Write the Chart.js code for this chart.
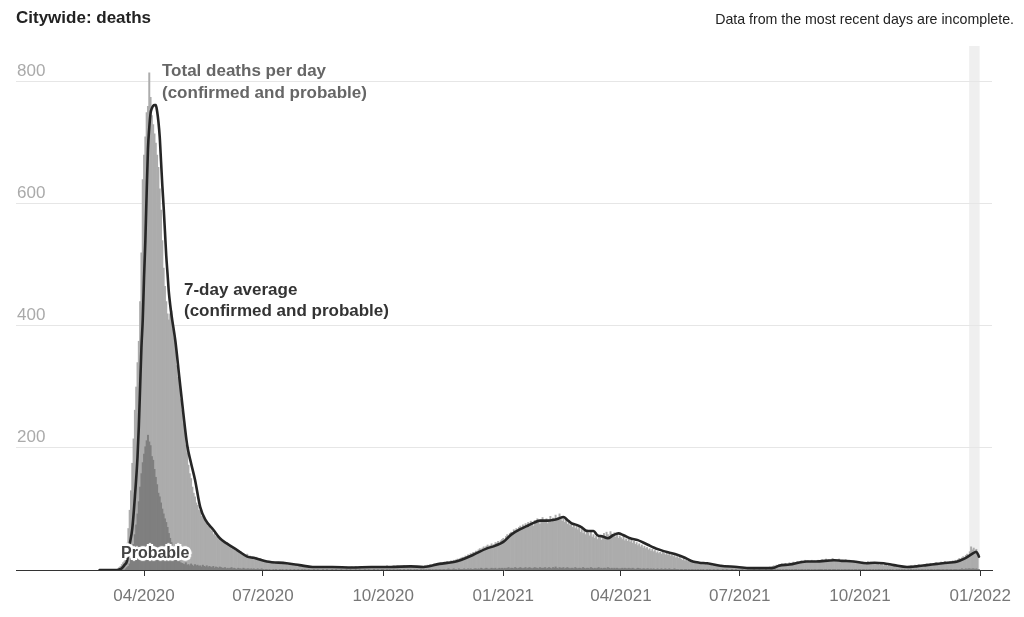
<!DOCTYPE html>
<html>
<head>
<meta charset="utf-8">
<title>Citywide: deaths</title>
<script src="https://cdn.jsdelivr.net/npm/chart.js@4.4.1/dist/chart.umd.min.js"></script>
<style>
  html, body { margin: 0; padding: 0; background: #fff; }
  #wrap { position: relative; width: 1024px; height: 617px; font-family: "Liberation Sans", Arial, sans-serif; }
  #chart { position: absolute; left: 0; top: 0; }
  .txt { position: absolute; white-space: nowrap; }
  #title { left: 16px; top: 8px; font-size: 17px; font-weight: bold; color: #222; line-height: 20px; }
  #note { right: 10px; top: 9px; font-size: 14.2px; color: #222; line-height: 20px; }
  #lblTotal { left: 162px; top: 60px; font-size: 17px; font-weight: bold; color: #666; line-height: 22px; }
  #lblAvg { left: 184px; top: 279px; font-size: 17px; font-weight: bold; color: #333; line-height: 21px; }
  #lblProb { left: 121px; top: 545px; font-size: 16px; font-weight: bold; color: #444; line-height: 16px;
    text-shadow: 2px 0 0 #fff, -2px 0 0 #fff, 0 2px 0 #fff, 0 -2px 0 #fff, 2px 2px 0 #fff, -2px -2px 0 #fff,
                 2px -2px 0 #fff, -2px 2px 0 #fff, 3px 0 1px #fff, -3px 0 1px #fff, 0 3px 1px #fff, 0 -3px 1px #fff; }
</style>
</head>
<body>
<div id="wrap">
  <canvas id="chart" width="1024" height="617"></canvas>
  <div class="txt" id="title">Citywide: deaths</div>
  <div class="txt" id="note">Data from the most recent days are incomplete.</div>
  <div class="txt" id="lblTotal">Total deaths per day<br>(confirmed and probable)</div>
  <div class="txt" id="lblAvg">7-day average<br>(confirmed and probable)</div>
  <div class="txt" id="lblProb">Probable</div>
</div>
<script>
// day 0 = 2020-03-01, one value per day, one line per month
const totalDeaths = [
  0,0,0,0,0,0,0,0,0,0,1,2,4,6,9,12,20,30,44,68,98,130,175,215,262,300,340,375,440,520,640,
  680,710,750,760,815,775,745,730,715,700,680,660,625,590,540,495,465,440,420,410,420,425,395,380,360,335,316,300,280,262,
  240,228,205,192,172,158,150,136,126,120,110,106,98,96,88,86,84,78,76,72,70,66,64,58,60,55,54,50,52,47,46,
  45,42,44,40,38,39,35,36,33,31,32,29,28,30,26,27,25,24,26,22,23,21,22,20,19,21,18,17,19,16,
  16,15,13,14,12,13,11,12,13,10,11,12,10,11,9,10,11,9,10,8,9,10,8,9,7,8,9,8,7,8,7,
  7,6,5,7,6,4,6,5,4,6,5,4,6,5,4,3,5,4,6,3,4,5,4,3,5,4,3,5,4,4,5,
  4,3,5,4,3,4,5,3,4,6,4,3,5,4,3,4,5,3,4,5,6,4,3,5,4,6,5,4,6,5,
  5,6,4,7,5,6,4,5,7,6,5,7,6,5,4,6,7,5,6,4,5,7,5,6,4,5,6,5,4,6,5,
  6,7,5,8,7,9,6,8,10,8,9,11,10,12,9,11,13,12,14,11,13,15,14,16,13,17,18,16,19,20,
  21,19,23,22,25,24,27,26,29,28,31,30,33,35,32,36,38,34,39,41,37,40,43,39,42,45,44,47,43,48,50,
  52,49,55,58,54,60,62,59,66,64,68,63,70,72,67,74,71,76,69,78,74,80,76,72,81,77,84,79,75,82,86,
  80,78,84,76,82,88,79,85,81,90,83,86,92,84,80,87,78,82,75,79,73,76,70,74,68,72,66,70,
  62,68,60,65,58,66,61,56,63,54,58,52,55,50,57,53,49,56,60,54,62,58,55,63,59,56,61,54,58,52,56,
  53,50,55,48,51,47,52,46,49,44,47,42,45,40,43,38,41,36,39,35,37,33,35,31,34,30,32,28,30,27,
  29,26,30,27,25,28,24,26,23,25,22,24,20,22,19,21,18,16,19,15,17,14,16,13,15,12,14,11,13,12,10,
  11,10,12,9,11,10,8,10,9,7,9,8,7,8,6,7,8,6,7,5,6,7,5,6,4,5,6,4,5,4,
  3,4,2,3,4,3,2,4,3,2,3,4,2,3,3,4,2,3,4,3,2,4,3,5,4,6,7,6,8,7,9,
  8,10,7,9,11,8,10,12,9,11,13,10,12,14,11,13,15,12,14,16,13,15,12,14,16,13,15,14,12,16,14,
  15,17,14,16,18,15,17,14,16,19,15,17,14,16,18,15,13,16,14,17,15,13,16,14,12,15,13,14,12,13,
  12,10,13,11,9,12,14,11,13,10,12,11,9,12,10,8,11,9,7,10,8,6,9,7,8,6,7,5,6,7,5,
  5,6,4,5,6,5,4,6,7,5,6,8,6,7,9,7,8,6,9,8,10,7,9,11,8,10,9,12,10,11,
  11,13,12,10,14,12,13,11,14,13,15,12,16,14,17,19,16,20,22,19,24,26,23,30,38,33,36,31,34,22
];

const probableDeaths = [
  0,0,0,0,0,0,0,0,0,0,0,0,0,0,0,0,0,2,4,6,10,17,28,42,58,74,92,112,136,158,176,
  190,202,212,221,210,204,186,180,165,152,140,126,120,110,100,92,84,78,70,60,52,45,38,32,26,21,17,14,12,11,
  10,9,12,8,9,7,10,8,6,9,7,8,6,7,5,8,6,5,7,4,6,5,4,6,3,5,4,3,5,4,3,
  3,4,2,3,2,3,4,2,3,2,1,3,2,2,1,3,2,1,2,2,1,2,1,2,1,1,2,1,1,2,
  1,0,1,1,0,1,0,0,1,0,1,0,0,1,0,1,0,0,1,0,0,1,0,0,1,0,0,1,0,0,1,
  0,1,0,0,1,0,0,0,1,0,0,1,0,0,0,1,0,0,1,0,0,0,1,0,0,1,0,0,0,1,0,
  0,0,1,0,0,1,0,0,0,1,0,0,1,0,0,0,1,0,0,1,0,0,0,1,0,0,1,0,0,1,
  1,0,0,1,0,1,0,0,1,0,0,1,0,1,0,0,1,0,0,1,0,1,0,0,1,0,1,0,0,1,0,
  1,0,1,0,1,1,0,1,0,1,1,0,1,1,0,1,1,0,1,2,1,0,1,2,1,1,0,2,1,1,
  1,2,1,1,2,1,2,1,1,2,2,1,2,1,3,2,1,2,3,2,1,2,3,2,2,3,1,2,3,2,3,
  2,3,2,3,4,2,3,3,2,4,3,2,3,4,3,2,3,4,2,3,4,3,2,3,4,3,3,2,4,3,3,
  3,4,2,3,4,3,2,4,3,5,3,2,4,3,3,4,2,3,4,3,2,3,3,2,4,3,2,3,
  3,2,4,3,2,3,3,2,4,3,2,3,2,3,4,2,3,2,3,3,2,4,3,2,3,2,3,2,3,2,2,
  2,3,2,3,2,2,3,2,2,3,2,1,2,3,2,2,1,2,2,1,2,2,1,2,1,2,1,1,2,1,
  1,2,1,1,2,1,1,2,1,1,1,2,1,1,1,0,1,1,0,1,1,0,1,0,1,1,0,1,0,1,0,
  1,0,1,0,0,1,0,1,0,0,1,0,0,1,0,0,0,1,0,0,1,0,0,0,1,0,0,1,0,0,
  0,0,1,0,0,0,1,0,0,0,0,1,0,0,0,1,0,0,0,0,1,0,0,0,1,0,0,1,0,1,0,
  1,0,1,0,1,1,0,1,0,1,0,1,1,0,1,0,1,1,0,1,0,1,1,0,1,0,1,1,0,1,1,
  1,1,0,1,1,0,1,1,0,1,1,1,0,1,1,0,1,0,1,1,0,1,1,0,1,0,1,1,0,1,
  1,0,1,1,0,1,0,1,1,0,1,0,1,0,1,1,0,1,0,1,0,1,0,1,0,1,0,0,1,0,1,
  0,1,0,1,0,0,1,0,1,0,1,0,1,0,1,0,1,1,0,1,0,1,0,1,1,0,1,0,1,1,
  1,0,1,1,0,1,1,0,1,1,0,1,1,1,0,1,1,2,1,1,2,1,2,2,1,2,2,1,2,1,1
];

// 7-day average, read at these days
const avgDays = [
  -3,10,12,14,16,18,20,22,24,26,27,28,29,30,31,32,33,34,35,36,37,38,39,40,41,42,43,44,45,46,47,48,49,50,51,52,
  55,58,61,64,67,70,74,78,84,89,94,102,110,115,125,140,150,160,175,190,205,220,235,245,257,268,273,283,293,300,
  306,312,319,325,330,334,340,344,348,352,355,358,362,366,370,375,378,382,386,390,394,398,403,409,413,417,421,426,
  432,439,445,451,456,462,472,485,495,512,517,525,538,545,559,565,574,584,590,597,605,615,622,630,638,646,652,656,
  660,666,668,670
];
const avgValues = [
  0,0,1,3,8,15,42,68,120,185,235,300,365,410,480,540,618,690,725,749,757,761,762,762,752,735,710,670,630,595,555,515,485,455,435,418,
  375,316,258,205,175,148,103,82,66,52,44,33,22,20,14,11,8,5,5,4,5,5,6,5,10,13,16,25,35,40,
  46,58,67,73,78,81,81,82,84,87,82,77,74,70,64,64,57,55,52,57,60,57,52,49,45,41,37,33,
  29,25,20,14,12,11,7,5,3,3,7,9,14,14,16,15,14,11,12,11,8,5,6,8,10,12,13,16,
  20,28,30,22
];

const tickDays = [31, 122, 214, 306, 396, 487, 579, 671];
const tickLabels = ['04/2020', '07/2020', '10/2020', '01/2021', '04/2021', '07/2021', '10/2021', '01/2022'];
const yTicks = [200, 400, 600, 800];
const incompleteFrom = 662.5, incompleteTo = 670.5;

const FONT = '"Liberation Sans", Arial, sans-serif';

const bandPlugin = {
  id: 'incompleteBand',
  beforeDraw(chart) {
    const { ctx, chartArea, scales: { x } } = chart;
    const x0 = x.getPixelForValue(incompleteFrom), x1 = x.getPixelForValue(incompleteTo);
    ctx.save();
    ctx.fillStyle = '#efefef';
    ctx.fillRect(x0, chartArea.top, x1 - x0, chartArea.bottom - chartArea.top);
    ctx.restore();
  }
};

new Chart(document.getElementById('chart').getContext('2d'), {
  type: 'bar',
  data: {
    datasets: [
      { type: 'line', label: '7-day average', data: avgDays.map((d, i) => ({ x: d, y: avgValues[i] })),
        borderColor: '#262626', borderWidth: 2.6, pointRadius: 0, cubicInterpolationMode: 'monotone',
        borderJoinStyle: 'round', borderCapStyle: 'round', order: 0 },
      { label: 'Probable', data: probableDeaths.map((v, i) => ({ x: i, y: v })), backgroundColor: '#7f7f7f',
        borderWidth: 0, grouped: false, barPercentage: 1, categoryPercentage: 1, order: 1 },
      { label: 'Total', data: totalDeaths.map((v, i) => ({ x: i, y: v })), backgroundColor: '#acacac',
        borderWidth: 0, grouped: false, barPercentage: 1, categoryPercentage: 1, order: 2 }
    ]
  },
  options: {
    responsive: false, animation: false,
    layout: { padding: { left: 16, right: 32, top: 46, bottom: 0 } },
    plugins: { legend: { display: false }, tooltip: { enabled: false } },
    scales: {
      x: {
        type: 'linear', min: -67, max: 680, offset: false,
        afterBuildTicks: s => { s.ticks = tickDays.map(v => ({ value: v })); },
        afterFit: s => { s.height = 47; },
        grid: { offset: false, drawOnChartArea: false, drawTicks: true, tickLength: 6, tickColor: '#333', tickWidth: 1 },
        border: { display: true, color: '#333', width: 1 },
        ticks: { autoSkip: false, maxRotation: 0, padding: 10, color: '#777', font: { family: FONT, size: 17 },
          callback: (v, i) => tickLabels[i] }
      },
      y: {
        min: 0, max: 859,
        afterBuildTicks: s => { s.ticks = yTicks.map(v => ({ value: v })); },
        afterFit: s => { s.width = 0; },
        grid: { color: '#e6e6e6', drawTicks: false, lineWidth: 1 },
        border: { display: false },
        ticks: { mirror: true, padding: 1, labelOffset: -11, color: '#aaa', font: { family: FONT, size: 17 } }
      }
    }
  },
  plugins: [bandPlugin]
});
</script>
</body>
</html>
